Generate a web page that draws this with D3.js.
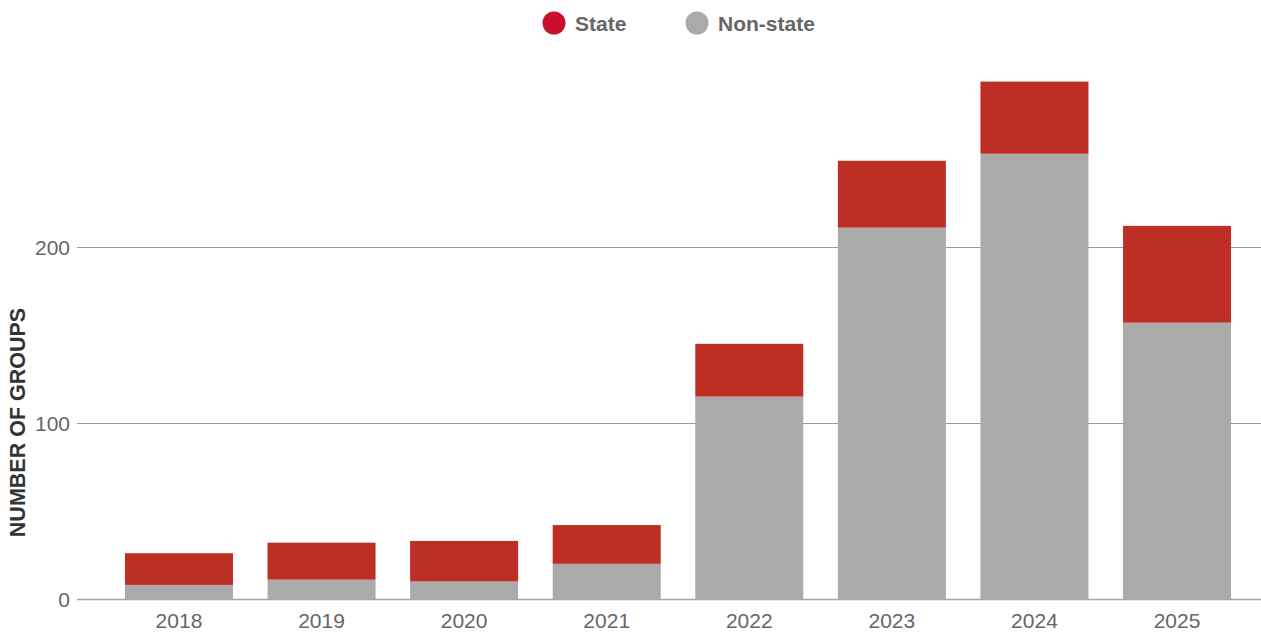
<!DOCTYPE html>
<html>
<head>
<meta charset="utf-8">
<script src="https://cdn.jsdelivr.net/npm/d3@7"></script>
<style>
  html, body { margin: 0; padding: 0; background: #fff; }
  svg { display: block; font-family: "Liberation Sans", Arial, Helvetica, sans-serif; }
</style>
</head>
<body>
<svg id="chart" width="1261" height="632"></svg>
<script>
const years = ["2018", "2019", "2020", "2021", "2022", "2023", "2024", "2025"];
const nonState = [8, 11, 10, 20, 115, 211, 253, 157];
const state = [18, 21, 23, 22, 30, 38, 41, 55];
const yTicks = [0, 100, 200];
const seriesNames = ["State", "Non-state"];

const svg = d3.select("#chart");

const x = d3.scaleBand()
  .domain(years)
  .range([107.7, 1248.3])
  .paddingInner(0.2425)
  .paddingOuter(0.121);

const y = d3.scaleLinear().domain([0, 300]).range([599, 71]);

const gridLeft = 77, gridRight = 1261;

// gridlines
svg.append("g")
  .selectAll("line")
  .data(yTicks)
  .join("line")
  .attr("x1", gridLeft)
  .attr("x2", gridRight)
  .attr("y1", d => Math.round(y(d)) + 0.5)
  .attr("y2", d => Math.round(y(d)) + 0.5)
  .attr("stroke", d => d === 0 ? "#a6a6a6" : "#9a9a9a")
  .attr("stroke-width", d => d === 0 ? 1.5 : 1);

// y tick labels
svg.append("g")
  .selectAll("text")
  .data(yTicks)
  .join("text")
  .attr("x", 70)
  .attr("y", d => y(d))
  .attr("dy", "0.36em")
  .attr("text-anchor", "end")
  .attr("fill", "#666")
  .attr("font-size", 21)
  .text(d => d);

// stacked data
const data = years.map((yr, i) => ({ year: yr, nonState: nonState[i], state: state[i] }));
const stack = d3.stack().keys(["nonState", "state"]);
const series = stack(data);
const colors = { nonState: "#aaaaaa", state: "#bd2e25" };

svg.append("g")
  .selectAll("g")
  .data(series)
  .join("g")
  .attr("fill", d => colors[d.key])
  .selectAll("rect")
  .data(d => d)
  .join("rect")
  .attr("x", d => x(d.data.year))
  .attr("width", x.bandwidth())
  .attr("y", d => y(d[1]))
  .attr("height", d => y(d[0]) - y(d[1]));

// x labels
svg.append("g")
  .selectAll("text")
  .data(years)
  .join("text")
  .attr("x", d => x(d) + x.bandwidth() / 2)
  .attr("y", 628)
  .attr("text-anchor", "middle")
  .attr("fill", "#666")
  .attr("font-size", 21)
  .text(d => d);

// y axis title
svg.append("text")
  .attr("transform", "translate(24.5, 422.5) rotate(-90)")
  .attr("text-anchor", "middle")
  .attr("fill", "#333")
  .attr("font-weight", "bold")
  .attr("font-size", 21.5)
  .text("NUMBER OF GROUPS");

// legend
const legendColors = ["#c8102e", "#aaaaaa"];
const legendX = [554, 697];
const lg = svg.append("g")
  .selectAll("g")
  .data(seriesNames)
  .join("g")
  .attr("transform", (d, i) => `translate(${legendX[i]}, 23)`);
lg.append("circle").attr("r", 11.5).attr("fill", (d, i) => legendColors[i]);
lg.append("text")
  .attr("x", 21)
  .attr("dy", "0.36em")
  .attr("fill", "#666")
  .attr("font-weight", "bold")
  .attr("font-size", 21)
  .text(d => d);
</script>
</body>
</html>
